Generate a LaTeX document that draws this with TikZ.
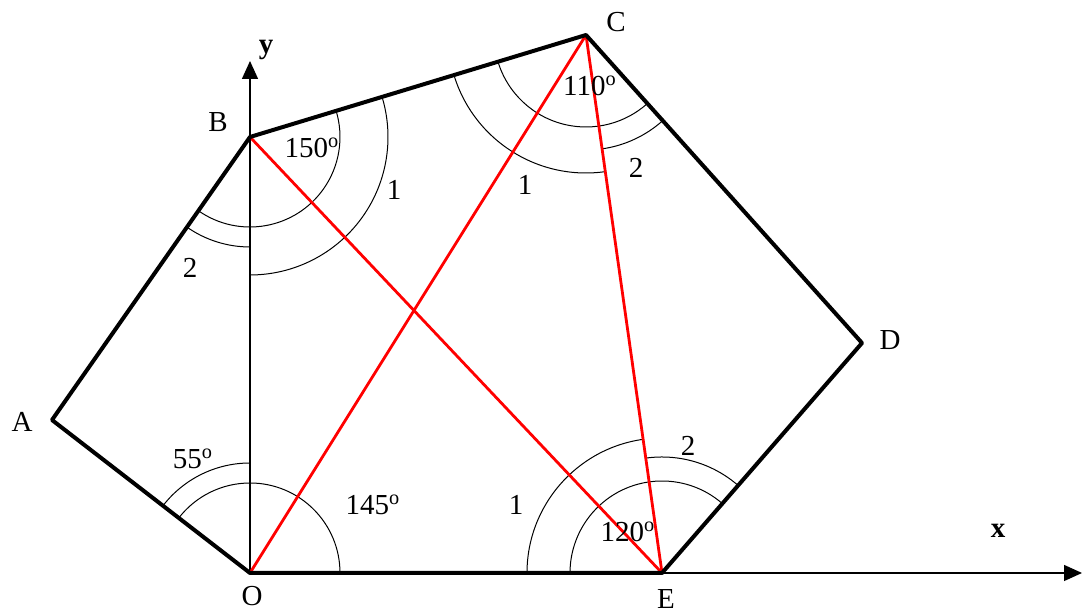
\documentclass[tikz,border=0pt]{standalone}
\usepackage{fontspec}
\setmainfont{Liberation Serif}
\usetikzlibrary{arrows.meta}

\tikzset{
  side/.style={line width=2pt, black, line join=round},
  diag/.style={line width=1.4pt, red},
  axis/.style={line width=0.7pt, -{Triangle[length=9pt,width=8pt]}},
  angarc/.style={line width=0.5pt},
  lbl/.style={font=\fontsize{14.5}{17}\selectfont, inner sep=0pt},
}
\newcommand{\dg}{\textsuperscript{o}}

\begin{document}
\begin{tikzpicture}[x=0.5pt,y=0.5pt]
\useasboundingbox (0,0) rectangle (1083,614);

% Vertices
\coordinate (O) at (250,41);
\coordinate (E) at (662,41);
\coordinate (D) at (862,271);
\coordinate (C) at (586,579);
\coordinate (B) at (250,477);
\coordinate (A) at (52,194);

% Axes
\coordinate (xend) at (1082,41);
\coordinate (yend) at (250,553);
\draw[axis] (O) -- (xend);
\draw[axis] (O) -- (yend);

% Angle arcs at O
\draw[angarc] ([shift={(90:110)}]O) arc (90:142.3:110);
\draw[angarc] ([shift={(0:90)}]O) arc (0:142.3:90);

% Angle arcs at B
\draw[angarc] ([shift={(235:90)}]B) arc (235:376.9:90);
\draw[angarc] ([shift={(235:110)}]B) arc (235:270:110);
\draw[angarc] ([shift={(270:138)}]B) arc (270:376.9:138);

% Angle arcs at C
\draw[angarc] ([shift={(196.9:92)}]C) arc (196.9:311.9:92);
\draw[angarc] ([shift={(278:115)}]C) arc (278:311.9:115);
\draw[angarc] ([shift={(196.9:138)}]C) arc (196.9:278:138);

% Angle arcs at E
\draw[angarc] ([shift={(49:92)}]E) arc (49:180:92);
\draw[angarc] ([shift={(49:116)}]E) arc (49:98:116);
\draw[angarc] ([shift={(98:135)}]E) arc (98:180:135);

% Diagonals
\draw[diag] (O) -- (C);
\draw[diag] (B) -- (E);
\draw[diag] (C) -- (E);

% Pentagon sides
\draw[side] (O) -- (A) -- (B) -- (C) -- (D) -- (E) -- cycle;

% Vertex labels
\node[lbl] (lA) at (22,192) {A};
\node[lbl] (lB) at (218,492) {B};
\node[lbl] (lC) at (616,592) {C};
\node[lbl] (lD) at (890,274) {D};
\node[lbl] (lO) at (252,18) {O};
\node[lbl] (lE) at (666,15) {E};
\node[lbl, font=\fontsize{14.5}{17}\selectfont\bfseries] (lx) at (998,83) {x};
\node[lbl, font=\fontsize{14.5}{17}\selectfont\bfseries] (ly) at (266,564) {y};

% Angle labels
\node[lbl] (aO1) at (193,155) {55\dg};
\node[lbl] (aO2) at (373,109) {145\dg};
\node[lbl] (aB0) at (312,466) {150\dg};
\node[lbl] (aB1) at (394,424) {1};
\node[lbl] (aB2) at (190,346) {2};
\node[lbl] (aC0) at (590,528) {110\dg};
\node[lbl] (aC1) at (525,429) {1};
\node[lbl] (aC2) at (636,446) {2};
\node[lbl] (aE0) at (628,82) {120\dg};
\node[lbl] (aE1) at (516,109) {1};
\node[lbl] (aE2) at (688,168) {2};

\end{tikzpicture}
\end{document}
